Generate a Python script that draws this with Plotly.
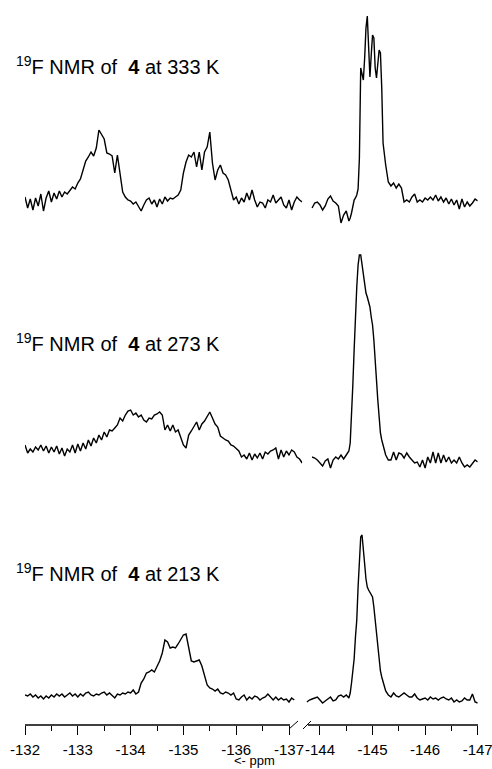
import numpy as np
import plotly.graph_objects as go

# ---------------- data ----------------
# chemical-shift sampling grids (ppm) of the digitised spectra
LEFT_PPM = np.round(-132.0 - 0.05 * np.arange(106), 3)
RIGHT_PPM = np.round(np.concatenate([
    -143.75 - 0.05 * np.arange(17),
    -144.575 - 0.025 * np.arange(28),
    -145.30 - 0.05 * np.arange(35)]), 3)

LEFT_TICKS = [-132, -133, -134, -135, -136, -137]
RIGHT_TICKS = [-144, -145, -146, -147]
LEFT_TICK_TEXT = ["-132", "-133", "-134", "-135", "-136", "-137"]
RIGHT_TICK_TEXT = ["-144", "-145", "-146", "-147"]

TEMPERATURES = ["333", "273", "213"]

# intensities (arbitrary units) -- region -132 ... -137 ppm
I333_LEFT = [6, -5, 4, -7, 5, -3, 9, -8, 5, 12, 1, 10, 4, 12, 6, 11, 9, 13, 16, 14,
             20, 24, 34, 42, 46, 51, 47, 55, 73, 69, 64, 50, 49, 47, 30, 48, 28, 11, 6, 3,
             2, -1, 1, -4, -8, -2, 3, 5, -1, 3, -4, 4, -1, 6, 2, 5, 4, 6, 8,
             13, 30, 41, 48, 46, 51, 36, 51, 33, 51, 56, 71, 40, 23, 33, 38, 30, 28, 23, 13, 3, 6,
             -1, 5, 1, 10, 3, 13, 3, -4, 1, 0, -5, 3, 1, 8, 0, 3, 6, -2, -5, 3, -7, 1, 6, 3, 1]
I273_LEFT = [10, 2, 6, 3, 8, 5, 10, 4, 9, 2, 8, 3, 9, 1, 7, -1, 6, 3, 10, 2,
             11, 4, 12, 6, 15, 9, 17, 12, 20, 15, 23, 18, 25, 24, 27, 30, 37, 34, 40, 44,
             45, 40, 42, 38, 40, 35, 33, 37, 36, 40, 41, 43, 40, 25, 30, 24, 30, 23, 25, 17,
             10, 7, 20, 24, 28, 33, 25, 31, 34, 38, 43, 37, 31, 28, 19, 17, 15, 14, 10, 9,
             6, 4, -2, 0, -4, 2, -5, 1, -3, 2, -4, 3, 1, 4, 5, 7, -4, 5, -2, 4,
             0, 5, 3, -2, -4, -8]
I213_LEFT = [2, 1, 3, 0, 2, -1, 1, -2, 1, -1, 2, 0, 3, 1, 3, 0, 2, 4, 1, 3,
             0, 3, 1, 4, 5, 2, 1, 3, 2, 4, 5, 2, 4, 1, -1, 3, 2, 4, 3, 5,
             4, 7, 3, 5, 14, 18, 24, 25, 27, 25, 30, 36, 44, 57, 55, 49, 50, 49, 53, 58,
             62, 63, 50, 36, 35, 36, 37, 31, 20, 12, 9, 8, 6, 8, 4, 3, 5, 4, 2, 4,
             -2, -3, 0, 2, -3, 0, -2, 1, 0, -3, -1, 0, 3, 0, -3, 0, -3, -1, -3, -2,
             -5, -1, -3]

# intensities -- region -144 ... -147 ppm
I333_RIGHT = [-5, 0, 1, -2, -7, -3, 4, 7, 2, 0, -3, -20, -12, -8, -18,
              -15, -10, -3, 3, 5, 8, 14, 45, 135, 130, 123, 145, 175, 187, 160, 126, 148, 168,
              165, 135, 125, 138, 153, 150, 115, 60, 45, 38,
              21, 17, 20, 15, 19, 15, 1, 3, 1, 6, 9, 1, 3, 1, 5, 3, 6, 3, 8, 2, 6, 1, 5, -1,
              4, -2, 3, -6, 4, -4, 1, -3, 0, 4, 2]
I273_RIGHT = [-2, -3, -5, -8, -11, -6, -4, -13, -5, -2, -4, 0, -4, 0, 4,
              12, 38, 70, 105, 145, 168, 190, 200, 200, 190, 178, 168, 162, 158, 152, 148, 138,
              130, 115, 90, 75, 55, 33, 22, 15, 9, 5, 0,
              -5, -5, 3, -5, 2, 1, -3, 2, -2, -5, -8, -7, -12, -5, -13, -2, -8, 3, -8, 2, -8,
              0, -7, -2, -8, -5, -8, -2, -8, -12, -10, -12, -8, -5, -7]
I213_RIGHT = [-5, -3, -2, -1, 0, -3, -6, -4, -2, 0, -4, -3, 1, 2, 0, 2, -1,
              4, 14, 24, 38, 60, 77, 110, 140, 160, 162, 150, 133, 118, 110, 107, 105, 103,
              100, 90, 76, 60, 47, 33, 26, 20, 15, 11, 6,
              2, 0, 4, 1, 0, 2, 4, 2, 0, 0, 3, -1, -3, -2, -1, -3, 0, -2, -1, -3, -1, 0, -2,
              -3, -1, -5, -3, -5, -4, -1, -3, -3, 3, -5, -6]

LEFT_SERIES = [I333_LEFT, I273_LEFT, I213_LEFT]
RIGHT_SERIES = [I333_RIGHT, I273_RIGHT, I213_RIGHT]

# ---------------- figure ----------------
W, H = 492, 769
FONT = "Liberation Sans, Arial, sans-serif"
LINE = dict(color="black", width=1.4)

fig = go.Figure()
yaxes_names = ["y", "y2", "y3"]
for k in range(3):
    lv = LEFT_SERIES[k]
    rv = RIGHT_SERIES[k]
    fig.add_trace(go.Scatter(x=LEFT_PPM[:len(lv)], y=lv, mode="lines", line=LINE,
                             xaxis="x", yaxis=yaxes_names[k], showlegend=False,
                             hoverinfo="skip"))
    fig.add_trace(go.Scatter(x=RIGHT_PPM[-len(rv):], y=rv, mode="lines", line=LINE,
                             xaxis="x2", yaxis=yaxes_names[k], showlegend=False,
                             hoverinfo="skip"))

axis_y = 1 - 725 / H  # paper position of the ppm axis

common_x = dict(anchor="free", position=axis_y, showgrid=False, zeroline=False,
                showline=False, ticks="outside", ticklen=9, tickwidth=1.3,
                tickcolor="black", tickmode="array", ticklabelstandoff=2,
                ticklabeloverflow="allow", automargin=False,
                tickfont=dict(family=FONT, size=15, color="black"), fixedrange=True)

fig.update_layout(
    template="none",
    width=W, height=H, autosize=False,
    margin=dict(l=0, r=0, t=0, b=0, pad=0),
    paper_bgcolor="white", plot_bgcolor="white",
    xaxis=dict(domain=[25 / W, 302.2 / W], range=[-132, -137.25],
               tickvals=LEFT_TICKS, ticktext=LEFT_TICK_TEXT,
               minor=dict(ticks="outside", ticklen=5, tickwidth=1.3, tickcolor="black",
                          tickmode="linear", tick0=-132, dtick=0.5, showgrid=False),
               **common_x),
    xaxis2=dict(domain=[306.3 / W, 477.7 / W], range=[-143.74, -147.0],
                tickvals=RIGHT_TICKS, ticktext=RIGHT_TICK_TEXT,
                minor=dict(ticks="outside", ticklen=5, tickwidth=1.3, tickcolor="black",
                           tickmode="linear", tick0=-144, dtick=0.5, showgrid=False),
                **common_x),
    yaxis=dict(domain=[1 - 235 / H, 1.0], range=[-32, 203], visible=False,
               anchor="x", fixedrange=True, automargin=False),
    yaxis2=dict(domain=[1 - 480 / H, 1 - 235 / H], range=[-25, 220], visible=False,
                anchor="x", fixedrange=True, automargin=False),
    yaxis3=dict(domain=[axis_y, 1 - 480 / H], range=[-28, 217], visible=False,
                anchor="x", fixedrange=True, automargin=False),
)

# broken axis line with break marks
axis_line = dict(color="black", width=1.3)
fig.add_shape(type="line", xref="paper", yref="paper", x0=25 / W, x1=290 / W,
              y0=axis_y, y1=axis_y, line=axis_line)
fig.add_shape(type="line", xref="paper", yref="paper", x0=308 / W, x1=478 / W,
              y0=axis_y, y1=axis_y, line=axis_line)
fig.add_shape(type="line", xref="paper", yref="paper", x0=289 / W, x1=298 / W,
              y0=1 - 729 / H, y1=1 - 721 / H, line=dict(color="black", width=1))
fig.add_shape(type="line", xref="paper", yref="paper", x0=303 / W, x1=311 / W,
              y0=1 - 729 / H, y1=1 - 721 / H, line=dict(color="black", width=1))

# titles of the three spectra
title_y = [65, 342, 572]
for k, t in enumerate(TEMPERATURES):
    fig.add_annotation(text=f"<sup>19</sup>F NMR of  <b>4</b> at {t} K",
                       xref="paper", yref="paper", x=14 / W, y=1 - title_y[k] / H,
                       xanchor="left", yanchor="middle", showarrow=False,
                       font=dict(family=FONT, size=20, color="black"))

fig.add_annotation(text="&lt;- ppm", xref="paper", yref="paper", x=254 / W,
                   y=0.0, xanchor="center", yanchor="bottom", showarrow=False,
                   borderpad=0,
                   font=dict(family=FONT, size=13, color="black"))

fig.write_html("out.html")
